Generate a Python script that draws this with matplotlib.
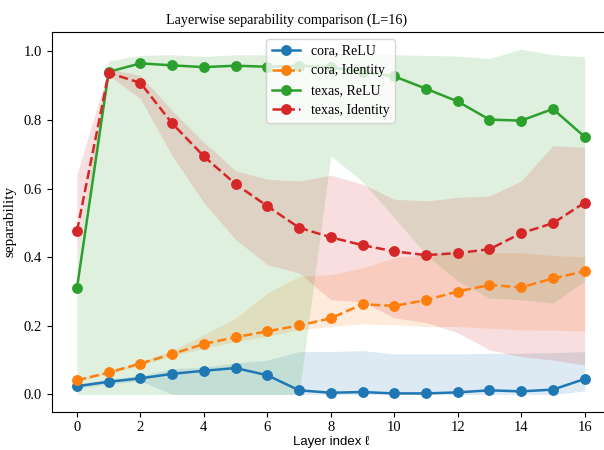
import numpy as np
import matplotlib
matplotlib.use("Agg")
import matplotlib.pyplot as plt

plt.rcParams["font.family"] = ["Liberation Serif", "DejaVu Serif"]

layers = np.arange(17)

# mean separability per layer
cora_relu = [0.024, 0.037, 0.047, 0.060, 0.069, 0.077, 0.056, 0.012, 0.005,
             0.007, 0.003, 0.003, 0.006, 0.012, 0.009, 0.014, 0.045]
cora_ident = [0.041, 0.064, 0.090, 0.118, 0.147, 0.167, 0.184, 0.201, 0.222,
              0.263, 0.258, 0.275, 0.300, 0.319, 0.312, 0.338, 0.359]
texas_relu = [0.310, 0.940, 0.965, 0.959, 0.954, 0.958, 0.955, 0.958, 0.953,
              0.940, 0.927, 0.891, 0.854, 0.801, 0.798, 0.832, 0.751]
texas_ident = [0.476, 0.937, 0.908, 0.790, 0.694, 0.613, 0.549, 0.486, 0.458,
               0.435, 0.417, 0.406, 0.412, 0.423, 0.470, 0.499, 0.559]

# spread across runs (lower / upper envelope)
cora_relu_lo = [0.018, 0.030, 0.040, 0.000, 0.000, 0.000, 0.000, 0.000, 0.000,
                0.000, 0.000, 0.000, 0.000, 0.000, 0.000, 0.000, 0.010]
cora_relu_hi = [0.030, 0.045, 0.055, 0.075, 0.080, 0.092, 0.100, 0.125, 0.125,
                0.128, 0.118, 0.118, 0.118, 0.120, 0.120, 0.122, 0.125]
cora_ident_lo = [0.037, 0.060, 0.085, 0.112, 0.135, 0.154, 0.169, 0.188, 0.198,
                 0.206, 0.203, 0.198, 0.198, 0.193, 0.188, 0.187, 0.185]
cora_ident_hi = [0.045, 0.068, 0.095, 0.128, 0.174, 0.222, 0.296, 0.344, 0.349,
                 0.369, 0.399, 0.408, 0.413, 0.413, 0.413, 0.405, 0.401]
texas_relu_lo = [0.000, 0.000, 0.000, 0.000, 0.000, 0.000, 0.000, 0.000, 0.696,
                 0.620, 0.515, 0.408, 0.330, 0.281, 0.276, 0.266, 0.330]
texas_relu_hi = [0.400, 0.972, 0.988, 0.990, 0.985, 0.990, 0.990, 0.992, 0.993,
                 0.992, 0.990, 0.988, 0.986, 0.979, 1.006, 0.990, 0.984]
texas_ident_lo = [0.400, 0.930, 0.862, 0.696, 0.559, 0.452, 0.378, 0.354, 0.276,
                  0.270, 0.223, 0.210, 0.180, 0.130, 0.110, 0.100, 0.086]
texas_ident_hi = [0.642, 0.949, 0.930, 0.827, 0.735, 0.652, 0.627, 0.622, 0.639,
                  0.613, 0.569, 0.564, 0.574, 0.578, 0.622, 0.725, 0.720]

series = [
    ("cora, ReLU", cora_relu, cora_relu_lo, cora_relu_hi, "#1f77b4", "-"),
    ("cora, Identity", cora_ident, cora_ident_lo, cora_ident_hi, "#ff7f0e", "--"),
    ("texas, ReLU", texas_relu, texas_relu_lo, texas_relu_hi, "#2ca02c", "-"),
    ("texas, Identity", texas_ident, texas_ident_lo, texas_ident_hi, "#d62728", "--"),
]

fig = plt.figure(figsize=(6.04, 4.5), dpi=100)
ax = fig.add_axes([0.0854, 0.0851, 0.9245, 0.8438])

for label, mean, lo, hi, color, ls in series:
    ax.plot(layers, mean, marker="o", linestyle=ls, color=color, lw=1.8,
            markersize=6.8, label=label)
    ax.fill_between(layers, lo, hi, color=color, alpha=0.15, linewidth=0)

ax.set_xlim(-0.8, 16.8)
ax.set_xticks(range(0, 17, 2))
ax.set_yticks(np.arange(0, 1.01, 0.2))
ax.tick_params(labelsize=10.5)
ax.spines["right"].set_visible(False)

ax.set_title("Layerwise separability comparison (L=16)", fontsize=10.2, x=0.42)
ax.set_ylabel("separability", fontsize=11, labelpad=5)
ax.set_xlabel("Layer index \u2113", fontsize=9.5,
              family=["Liberation Sans", "DejaVu Sans"], labelpad=1)
ax.legend(loc="upper center", fontsize=10)

fig.savefig("out.png", dpi=100)
